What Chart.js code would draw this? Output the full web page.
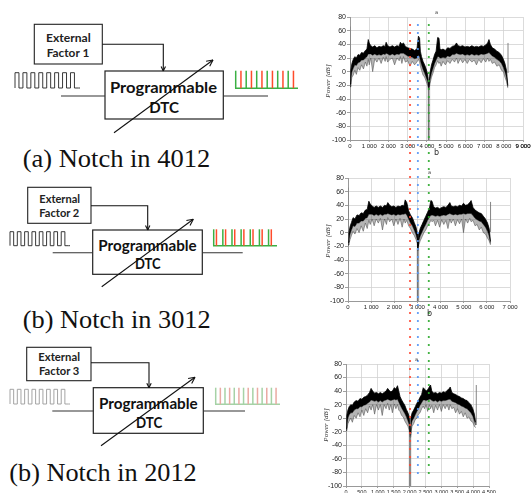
<!DOCTYPE html>
<html>
<head>
<meta charset="utf-8">
<script src="https://cdn.jsdelivr.net/npm/chart.js@4.4.1/dist/chart.umd.min.js"></script>
<style>
  body { margin: 0; overflow: hidden; background: #fff; }
  canvas.spec { position: absolute; }
  #overlay { position: absolute; left: 0; top: 0; pointer-events: none; }
  .ylab { position: absolute; font: italic 7px "Liberation Serif", serif; color: #333; transform: rotate(-90deg); transform-origin: center; white-space: nowrap; }
  .mark { position: absolute; font-family: "DejaVu Sans", sans-serif; color: #333; line-height: 1; }
</style>
</head>
<body>
<svg id="diag" width="300" height="493" style="position:absolute;left:0;top:0"></svg>
<canvas id="c1" class="spec" width="245" height="160" style="left:300px;top:0px"></canvas>
<canvas id="c2" class="spec" width="231" height="165" style="left:300px;top:160px"></canvas>
<canvas id="c3" class="spec" width="231" height="168" style="left:300px;top:325px"></canvas>
<canvas id="overlay" width="531" height="493"></canvas>

<div class="ylab" style="left:311px;top:77px">Power [dB]</div>
<div class="ylab" style="left:311px;top:237px">Power [dB]</div>
<div class="ylab" style="left:309px;top:421px">Power [dB]</div>
<div class="mark" style="left:435px;top:10px;font-size:5px">a</div>
<div class="mark" style="left:434px;top:149px;font-size:8px">b</div>
<div class="mark" style="left:428px;top:170px;font-size:5px">a</div>
<div class="mark" style="left:427px;top:310px;font-size:8px">b</div>
<div class="mark" style="left:415px;top:357px;font-size:5px">a</div>

<script>
// (a) notch in 4012 -- spectrum envelopes
const freq1 = [0, 40, 100, 170, 250, 330, 420, 510, 600, 700,
  800, 880, 950, 1000, 1080, 1180, 1290, 1400, 1510, 1620,
  1730, 1830, 1880, 1960, 2080, 2200, 2320, 2440, 2560, 2620,
  2700, 2780, 2880, 3000, 3120, 3240, 3360, 3480, 3560, 3620,
  3660, 3720, 3800, 3880, 3960, 4040, 4100, 4160, 4240, 4320,
  4400, 4480, 4560, 4630, 4680, 4740, 4840, 4960, 5080, 5200,
  5320, 5440, 5540, 5620, 5740, 5860, 5980, 6100, 6220, 6340,
  6460, 6580, 6700, 6820, 6940, 7060, 7160, 7230, 7300, 7400,
  7520, 7640, 7760, 7880, 7980, 8060, 8140, 8210];
const top1 = [-18, 2, 12, 18, 22, 20, 25, 24, 28, 27,
  31, 33, 47, 42, 38, 36, 38, 35, 37, 36,
  38, 37, 43, 38, 36, 38, 36, 38, 37, 43,
  40, 42, 37, 35, 34, 33, 31, 33, 52, 49,
  30, 22, 15, 10, 4, -4, -22, -2, 10, 17,
  25, 30, 50, 49, 33, 32, 33, 31, 35, 34,
  37, 38, 42, 38, 37, 38, 36, 37, 36, 38,
  36, 37, 36, 38, 37, 39, 42, 47, 40, 35,
  33, 30, 28, 24, 18, 12, 2, -20];
const low1 = [-22, -10, 0, 5, 10, 9, 13, 14, 17, 17,
  20, 22, 26, 26, 26, 24, 26, 24, 25, 24,
  26, 25, 27, 26, 24, 26, 24, 26, 25, 27,
  27, 27, 25, 23, 22, 21, 19, 20, 24, 22,
  16, 10, 3, -2, -8, -14, -25, -12, -2, 5,
  12, 17, 22, 22, 20, 20, 21, 20, 23, 22,
  25, 25, 27, 26, 25, 26, 24, 25, 24, 26,
  24, 25, 24, 26, 25, 26, 27, 28, 26, 23,
  21, 18, 16, 12, 6, 0, -8, -22];
const floor1 = [-22, -18, -8, -5, 2, -4, 6, 2, 10, 4,
  14, 8, 18, 10, 20, 0, 19, 14, 20, 12,
  21, 15, 22, 14, 18, 20, 10, 20, 16, 22,
  12, 22, 14, 16, 8, 15, 10, 14, 18, 14,
  8, 2, -5, -8, -14, -20, -27, -18, -8, -2,
  6, 10, 16, 12, 14, 8, 15, 10, 16, 12,
  18, 14, 20, 12, 19, 13, 18, 12, 18, 14,
  17, 10, 18, 13, 19, 14, 20, 15, 18, 12,
  14, 8, 10, 2, 0, -8, -14, -24];
const notch1 = [4100, -8, -25];           // freq, top of grey band, bottom of notch
const edges1 = [[0, -20, 66], [8220, -2, 42]];

// (b) notch in 3012
const freq2 = [0, 40, 90, 150, 220, 300, 390, 480, 570, 660,
  750, 830, 900, 960, 1040, 1130, 1220, 1310, 1400, 1490,
  1580, 1660, 1720, 1800, 1890, 1980, 2070, 2160, 2250, 2340,
  2420, 2470, 2540, 2620, 2700, 2780, 2860, 2940, 2990, 3020,
  3060, 3120, 3200, 3280, 3360, 3440, 3520, 3580, 3630, 3700,
  3780, 3870, 3960, 4050, 4140, 4230, 4320, 4400, 4460, 4550,
  4640, 4730, 4820, 4910, 4990, 5080, 5170, 5260, 5320, 5400,
  5490, 5580, 5670, 5760, 5850, 5940, 6030, 6100, 6160];
const top2 = [-14, 0, 9, 15, 22, 20, 26, 25, 29, 28,
  33, 34, 46, 42, 39, 37, 39, 37, 39, 37,
  40, 39, 44, 40, 38, 39, 37, 39, 38, 40,
  39, 48, 44, 32, 26, 22, 15, 8, 0, -20,
  -2, 6, 12, 18, 24, 30, 36, 47, 46, 38,
  36, 37, 35, 37, 38, 37, 40, 44, 39, 38,
  39, 38, 40, 39, 43, 40, 41, 44, 47, 37,
  33, 31, 29, 28, 24, 20, 14, 6, -13];
const low2 = [-18, -10, -2, 4, 10, 9, 14, 14, 17, 17,
  21, 22, 27, 27, 27, 25, 27, 25, 27, 25,
  27, 27, 28, 27, 26, 27, 25, 27, 26, 27,
  27, 28, 26, 20, 14, 10, 4, -3, -10, -23,
  -12, -5, 1, 7, 12, 18, 23, 25, 26, 25,
  24, 25, 24, 25, 26, 25, 27, 28, 27, 26,
  27, 26, 27, 27, 28, 27, 28, 28, 28, 25,
  21, 19, 17, 16, 12, 8, 2, -5, -16];
const floor2 = [-18, -16, -10, -4, 2, -2, 6, 0, 10, 2,
  14, 6, 18, 12, 20, 10, 20, 14, 21, 4,
  20, 12, 22, 16, 20, 10, 20, 12, 21, 8,
  20, 14, 18, 10, 6, 0, -4, -10, -16, -26,
  -18, -12, -6, 0, 4, 10, 14, 18, 16, 18,
  10, 18, 8, 19, 12, 18, 6, 20, 14, 20,
  10, 19, 13, 20, 0, 20, 14, 21, 16, 18,
  10, 12, 4, 8, 0, -2, -8, -12, -18];
const notch2 = [3020, -23, -23];
const edges2 = [[0, -15, 66], [6160, 1, 45]];

// (b) notch in 2012
const freq3 = [0, 25, 60, 100, 150, 200, 260, 320, 380, 440,
  500, 560, 620, 680, 740, 790, 840, 900, 960, 1020,
  1080, 1140, 1200, 1260, 1310, 1360, 1410, 1460, 1520, 1570,
  1620, 1660, 1700, 1750, 1800, 1850, 1900, 1950, 1990, 2015,
  2040, 2080, 2130, 2180, 2230, 2280, 2330, 2380, 2430, 2470,
  2520, 2570, 2620, 2660, 2700, 2760, 2820, 2880, 2940, 3000,
  3060, 3120, 3180, 3240, 3280, 3330, 3390, 3450, 3510, 3570,
  3630, 3690, 3750, 3810, 3870, 3930, 3990, 4040, 4080];
const top3 = [-15, 4, 12, 17, 20, 19, 24, 26, 25, 29,
  28, 31, 32, 34, 38, 44, 40, 37, 38, 36,
  38, 36, 38, 40, 44, 41, 39, 40, 45, 43,
  48, 40, 32, 27, 23, 19, 13, 8, 2, -22,
  0, 8, 12, 17, 22, 26, 31, 35, 45, 43,
  40, 42, 46, 49, 40, 37, 38, 36, 38, 37,
  39, 38, 41, 43, 46, 38, 36, 35, 33, 32,
  30, 29, 27, 26, 23, 20, 14, 6, -6];
const low3 = [-18, -10, 0, 5, 8, 8, 12, 14, 14, 17,
  17, 19, 20, 22, 24, 27, 26, 25, 26, 24,
  26, 24, 26, 27, 28, 27, 26, 27, 28, 27,
  28, 24, 20, 15, 11, 7, 2, -4, -10, -25,
  -12, -4, 0, 5, 10, 14, 19, 23, 27, 27,
  26, 27, 28, 28, 26, 25, 26, 24, 26, 25,
  26, 26, 27, 28, 28, 25, 24, 23, 21, 20,
  18, 17, 15, 14, 11, 8, 3, -4, -10];
const floor3 = [-18, -16, -8, -4, 0, -6, 4, 0, 8, 2,
  12, 4, 14, 8, 18, 12, 20, 6, 20, 12,
  20, 4, 20, 14, 22, 12, 20, 8, 21, 14,
  20, 12, 10, 4, 2, -4, -8, -12, -18, -28,
  -20, -12, -8, -2, 0, 6, 8, 14, 18, 14,
  20, 10, 20, 14, 19, 8, 19, 12, 20, 10,
  20, 14, 20, 12, 20, 14, 16, 8, 14, 6,
  10, 2, 8, 0, 2, -4, -6, -12, -14];
const notch3 = [2015, -10, -25];
const edges3 = [[4100, -10, 49]];

const yTicks = [-100, 80, 20];   // min, max, step
const markerColors = ['rgb(255,72,50)', 'rgb(85,150,245)', 'rgb(45,170,45)'];

const thousands = v => v < 1000 ? String(v) : Math.floor(v / 1000) + ' ' + String(v % 1000).padStart(3, '0');
const yFont = { family: 'Liberation Sans', size: 7 };

// re-stamps the last x tick label after drawing, so the one at the page edge is never lost
const lastTickLabel = {
  id: 'lastTickLabel',
  afterDraw(chart) {
    const s = chart.scales.x;
    const last = s.ticks[s.ticks.length - 1];
    const o = s.options;
    const ctx = chart.ctx;
    ctx.save();
    ctx.font = `${o.ticks.font.size}px "${o.ticks.font.family}"`;
    ctx.fillStyle = o.ticks.color;
    ctx.textAlign = 'center';
    ctx.textBaseline = 'middle';
    ctx.fillText(last.label, s.getPixelForValue(last.value), s.top + o.grid.tickLength + o.ticks.padding + o.ticks.font.size * 0.6);
    ctx.restore();
  },
};

function spectrum(id, c) {
  const pts = ys => c.freq.map((x, i) => ({ x, y: ys[i] }));
  const vline = (x, a, b) => [{ x, y: a }, { x, y: b }];
  const datasets = [
    { data: pts(c.top), borderColor: '#000', borderWidth: 0.8, backgroundColor: '#000', fill: '+1' },
    { data: pts(c.low), borderColor: '#111', borderWidth: 0.5, backgroundColor: 'rgba(60,60,60,0.38)', fill: '+1' },
    { data: pts(c.floor), borderColor: 'rgba(70,70,70,0.85)', borderWidth: 0.6, fill: false },
    { data: vline(c.notch[0], yTicks[0], c.notch[2]), borderColor: '#333', borderWidth: 0.9, fill: false },
    { data: vline(c.notch[0], yTicks[0], c.notch[1]), borderColor: 'rgba(165,165,165,0.4)', borderWidth: 3, fill: false },
  ];
  c.edges.forEach(e => datasets.push({ data: vline(e[0], e[1], e[2]), borderColor: '#777', borderWidth: 0.9, fill: false }));

  return new Chart(document.getElementById(id), {
    type: 'line',
    data: { datasets },
    plugins: c.stampLast ? [lastTickLabel] : [],
    options: {
      responsive: false,
      animation: false,
      events: [],
      layout: { padding: { top: c.pad[0], right: c.pad[1], bottom: 0, left: 0 } },
      plugins: { legend: { display: false }, tooltip: { enabled: false } },
      elements: { point: { radius: 0 }, line: { tension: 0 } },
      scales: {
        x: {
          type: 'linear', min: 0, max: c.xMax,
          ticks: { stepSize: c.xStep, autoSkip: false, maxRotation: 0, padding: 1, color: '#222',
            font: { family: 'Liberation Sans', size: c.xFont }, callback: thousands },
          grid: { color: '#d2d2d2', lineWidth: 0.8, borderDash: [2, 2], tickLength: 2, tickColor: '#888' },
          border: { color: '#999', width: 1 },
          afterFit: s => { s.height = c.xH; s.paddingLeft = 0; s.paddingRight = 0; },
        },
        y: {
          min: yTicks[0], max: yTicks[1],
          ticks: { stepSize: yTicks[2], padding: 1, color: '#222', font: yFont },
          grid: { color: '#d2d2d2', lineWidth: 0.8, borderDash: [2, 2], tickLength: 3, tickColor: '#888' },
          border: { color: '#999', width: 1 },
          afterFit: s => { s.width = c.yW; s.paddingTop = 0; s.paddingBottom = 0; },
        },
      },
    },
  });
}

// chart 1's canvas runs past the page edge so its last tick label is cut like the original
const ch1 = spectrum('c1', { freq: freq1, top: top1, low: low1, floor: floor1, notch: notch1, edges: edges1,
  xMax: 9000, xStep: 1000, xFont: 6, yW: 50, xH: 20, pad: [17, 22], stampLast: true });
const ch2 = spectrum('c2', { freq: freq2, top: top2, low: low2, floor: floor2, notch: notch2, edges: edges2,
  xMax: 7000, xStep: 1000, xFont: 6, yW: 48, xH: 24, pad: [18, 21] });
const ch3 = spectrum('c3', { freq: freq3, top: top3, low: low3, floor: floor3, notch: notch3, edges: edges3,
  xMax: 4500, xStep: 500, xFont: 5.5, yW: 46, xH: 7, pad: [39, 42] });

// dotted markers running through all three plots, one per notch
const ov = document.getElementById('overlay').getContext('2d');
[[ch3, notch3[0]], [ch2, notch2[0]], [ch1, notch1[0]]].forEach(([ch, f], k) => {
  const x = ch.canvas.offsetLeft + ch.scales.x.getPixelForValue(f);
  ov.fillStyle = markerColors[k];
  for (let y = 25; y <= 473; y += 8) {
    ov.beginPath();
    ov.arc(x, y, 1.1, 0, Math.PI * 2);
    ov.fill();
  }
});

// block diagrams
const NS = 'http://www.w3.org/2000/svg';
const svg = document.getElementById('diag');
function add(tag, attrs, text) {
  const e = document.createElementNS(NS, tag);
  for (const k in attrs) e.setAttribute(k, attrs[k]);
  if (text) e.textContent = text;
  svg.appendChild(e);
  return e;
}
function line(x1, y1, x2, y2, stroke, w) {
  add('line', { x1, y1, x2, y2, stroke: stroke || '#222', 'stroke-width': w || 1.1 });
}
function head(x0, y0, x1, y1, len) {
  const a = Math.atan2(y1 - y0, x1 - x0);
  [0.45, -0.45].forEach(d => line(x1, y1, x1 - len * Math.cos(a + d), y1 - len * Math.sin(a + d), '#111', 1.1));
}

const diagrams = [
  { ext: [34.3, 24.3, 68, 39.7], extFont: 12, extText: [['External', 46, 42, 44.7], ['Factor 1', 46.7, 57.3, 42.6]],
    dtc: [105, 71, 118.3, 48], dtcFont: 16, dtcText: [['Programmable', 110, 92.7, 107], ['DTC', 149.3, 113.3, 29.7]],
    feed: [102.3, 44.3, 163.3, 71], wire: [96, 61, 105, 223.3, 268], wave: [15, 80, 72.7, 88],
    pulses: [235, 298, 70.7, 88.3, 6, 0.5], arrow: [114, 132.7, 213, 60],
    caption: ['(a) Notch in 4012', 22.7, 166.5, 187.5], faded: false },
  { ext: [27.7, 187.3, 63.3, 36], extFont: 11, extText: [['External', 39.3, 203.3, 40.7], ['Factor 2', 39.3, 217.3, 40]],
    dtc: [92.7, 230, 109.6, 44.3], dtcFont: 14.5, dtcText: [['Programmable', 98.3, 251, 98.4], ['DTC', 135, 269.3, 25.7]],
    feed: [91, 205.7, 147.7, 230], wire: [252.7, 52.7, 92.7, 202.3, 242.7], wave: [10, 70, 231.7, 245.7],
    pulses: [213, 277, 229.3, 245.7, 7, 0.3], arrow: [101.7, 286.7, 193.3, 219.3],
    caption: ['(b) Notch in 3012', 22.7, 328, 188], faded: false },
  { ext: [26.7, 347.3, 64.3, 33.4], extFont: 11, extText: [['External', 38.3, 361, 41.7], ['Factor 3', 39, 375, 40.3]],
    dtc: [93.3, 387.7, 110, 45.6], dtcFont: 14.5, dtcText: [['Programmable', 99, 409, 98.7], ['DTC', 136, 427.7, 26.3]],
    feed: [91, 362.7, 149, 387.7], wire: [411, 52.3, 93.3, 203.3, 245], wave: [10, 70, 389.3, 404],
    pulses: [215, 280, 387.7, 404.3, 7, 0.5], arrow: [101, 445.7, 195, 377.3],
    caption: ['(b) Notch in 2012', 9.3, 481, 187.4], faded: true },
];

diagrams.forEach(d => {
  const sans = 'Lato, "Open Sans", sans-serif';
  add('rect', { x: d.ext[0], y: d.ext[1], width: d.ext[2], height: d.ext[3], fill: 'none', stroke: '#222', 'stroke-width': 1.1 });
  d.extText.forEach(([s, x, y, w]) => add('text', { x, y, textLength: w, lengthAdjust: 'spacingAndGlyphs',
    'font-family': sans, 'font-size': d.extFont, 'font-weight': 'bold', fill: '#222' }, s));
  add('rect', { x: d.dtc[0], y: d.dtc[1], width: d.dtc[2], height: d.dtc[3], fill: 'none', stroke: '#222', 'stroke-width': 1.2 });
  d.dtcText.forEach(([s, x, y, w]) => add('text', { x, y, textLength: w, lengthAdjust: 'spacingAndGlyphs',
    'font-family': sans, 'font-size': d.dtcFont, 'font-weight': 'bold', fill: '#111' }, s));

  // feed from external factor into the DTC
  const [fx0, fy0, fx1, fy1] = d.feed;
  add('polyline', { points: `${fx0},${fy0} ${fx1},${fy0} ${fx1},${fy1}`, fill: 'none', stroke: '#111', 'stroke-width': 1.1 });
  head(fx1, fy0, fx1, fy1, 5);

  // input / output wires
  const [wy, ix0, ix1, ox0, ox1] = d.wire;
  line(ix0, wy, ix1, wy, '#333', 1.1);
  line(ox0, wy, ox1, wy, '#333', 1.1);

  // input clock
  const [qx0, qx1, qt, qb] = d.wave;
  const n = 8, p = (qx1 - qx0) / (n + 0.2);
  let path = `M${qx0},${qb}`;
  for (let i = 0; i < n; i++) {
    const x = qx0 + i * p;
    path += ` L${x},${qt} L${x + p / 2},${qt} L${x + p / 2},${qb} L${x + p},${qb}`;
  }
  path += ` L${qx1},${qb}`;
  add('path', { d: path, fill: 'none', stroke: d.faded ? '#9a9a9a' : '#222', 'stroke-width': 0.9 });

  // output pulse train
  const [px0, px1, pt, pb, pn, off] = d.pulses;
  const pp = (px1 - px0) / pn;
  const green = d.faded ? '#a6d2a6' : '#3bb043';
  const red = d.faded ? '#e9aaa2' : '#ff4b2b';
  line(px0, pb, px1, pb, green, 1.4);
  for (let i = 0; i < pn; i++) {
    const x = px0 + i * pp;
    line(x + 0.7, pt, x + 0.7, pb, green, 1.5);
    line(x + 0.7 + pp * off, pt, x + 0.7 + pp * off, pb, red, 1.5);
  }

  // programmable arrow
  const [ax0, ay0, ax1, ay1] = d.arrow;
  line(ax0, ay0, ax1, ay1, '#111', 1.1);
  head(ax0, ay0, ax1, ay1, 7);

  const [cs, cx, cy, cw] = d.caption;
  add('text', { x: cx, y: cy, textLength: cw, lengthAdjust: 'spacingAndGlyphs',
    'font-family': '"Liberation Serif", "Times New Roman", serif', 'font-size': 26, fill: '#111' }, cs);
});
</script>
</body>
</html>
